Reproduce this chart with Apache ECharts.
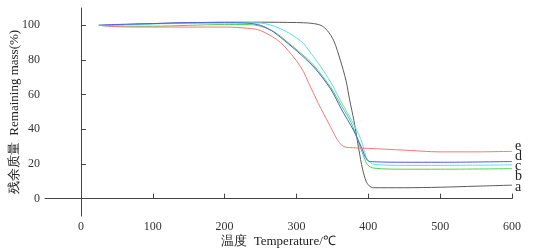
<!DOCTYPE html>
<html>
<head>
<meta charset="utf-8">
<script src="https://cdn.jsdelivr.net/npm/echarts@6/dist/echarts.min.js"></script>
<style>
html,body{margin:0;padding:0;background:#fff;}
#chart{width:536px;height:249px;}
</style>
</head>
<body>
<div id="chart"></div>
<script>
// TG curves, [temperature, remaining mass]
var curveA = [[25,100],[50,100.3],[100,101],[150,101.5],[200,101.8],[250,101.8],[300,101.6],[320,101.2],[334,100],[343,97],[352,91],[361,80],[369,68],[374,57],[380,45],[387,28],[392,17],[397,10],[401,7.5],[407,6.3],[450,6.3],[500,6.6],[550,7.2],[600,7.8]];
var curveB = [[25,100],[50,99.5],[100,99.5],[150,100],[200,100.5],[230,100.5],[250,99.5],[270,96],[290,89.5],[306,84],[324,77],[348,64],[362,54],[376,44],[385,34],[394,24],[399,19.5],[408,17.6],[450,17],[500,17],[600,17.3]];
var curveC = [[25,100],[50,100.3],[100,100.8],[150,101.2],[200,101.5],[250,101.3],[278,98],[306,91],[320,84],[334,76],[348,67],[362,56],[377,45],[390,34],[394,28],[399,22.5],[408,19.8],[450,19.2],[500,19.2],[600,19.5]];
var curveD = [[25,100],[50,100.5],[100,101],[150,101.5],[200,101.5],[230,101.3],[250,100],[265,97],[278,93],[301,85],[324,76],[348,63],[362,52],[380,39],[390,30],[399,22],[408,21.3],[450,21],[500,21],[600,21.4]];
var curveE = [[25,100],[50,99.2],[100,99],[150,99],[200,99],[232,98.3],[250,97],[278,90],[306,76],[320,64],[334,52],[348,41],[357,34],[366,30],[382,29.3],[400,29],[450,28],[500,27],[550,27],[600,27.3]];

var names = ['a','b','c','d','e'];
var colors = ['#5a5a5a','#4fd34f','#4fe6e6','#5555ee','#f27878'];
var labelDy = [2,8,1,-5,-5];

var SERIF = '"Liberation Serif","Times New Roman",serif';

var chart = echarts.init(document.getElementById('chart'));

function makeSeries(data, i){
	return {
		name: names[i],
		type: 'line',
		data: data,
		smooth: 0.3,
		showSymbol: false,
		lineStyle: {color: colors[i], width: 1},
		endLabel: {
			show: true,
			formatter: names[i],
			color: '#222',
			fontFamily: SERIF,
			fontSize: 14,
			offset: [0, labelDy[i]],
			distance: 3
		}
	};
}

var axisLine = {lineStyle: {color: '#444', width: 1}};

var option = {
	animation: false,
	grid: {left: 45, right: 24, top: 8, bottom: 33, outerBoundsMode: 'none', containLabel: false},
	xAxis: {
		type: 'value',
		min: -50,
		max: 600,
		interval: 50,
		name: '温度  Temperature/℃',
		nameLocation: 'middle',
		nameGap: 19,
		nameMoveOverlap: false,
		nameTextStyle: {color: '#222', fontSize: 13, fontFamily: SERIF},
		axisLine: axisLine,
		axisTick: {inside: true, length: 5, lineStyle: {color: '#444'}, customValues: [0,100,200,300,400,500,600]},
		axisLabel: {color: '#333', fontSize: 12, fontFamily: SERIF, margin: 5, customValues: [0,100,200,300,400,500,600]},
		splitLine: {show: false}
	},
	yAxis: {
		type: 'value',
		min: -10,
		max: 110,
		interval: 10,
		name: '残余质量  Remaining mass(%)',
		nameLocation: 'middle',
		nameGap: 24,
		nameMoveOverlap: false,
		nameTextStyle: {color: '#222', fontSize: 13, fontFamily: SERIF},
		axisLine: axisLine,
		axisTick: {inside: true, length: 5, lineStyle: {color: '#444'}, customValues: [0,20,40,60,80,100]},
		axisLabel: {color: '#333', fontSize: 12, fontFamily: SERIF, margin: 5, customValues: [0,20,40,60,80,100]},
		splitLine: {show: false}
	},
	series: [curveA, curveB, curveC, curveD, curveE].map(makeSeries)
};

chart.setOption(option);
</script>
</body>
</html>
